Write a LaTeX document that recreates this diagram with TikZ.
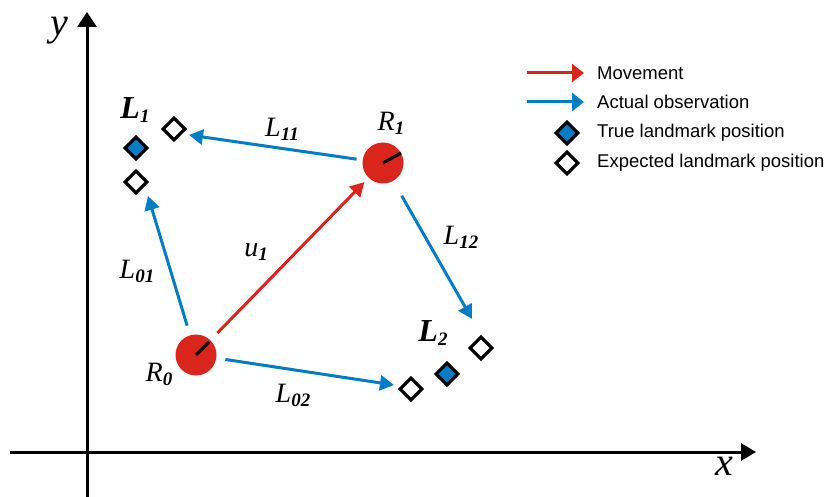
\documentclass[tikz,border=0pt]{standalone}
\usepackage{fontspec}
\setmainfont{Liberation Serif}
\newfontfamily\legendfont{Liberation Sans}
\usetikzlibrary{arrows.meta,shapes.geometric}

% italic subscript, set a little lower than the base line
\newcommand{\sbs}[1]{\raisebox{-4pt}{\fontsize{19}{19}\selectfont\bfseries #1}}

\begin{document}
\begin{tikzpicture}[x=1pt,y=-1pt,
  >={Triangle[length=14pt,width=15pt]},
  robot/.style={circle,fill=cred,minimum size=41pt,inner sep=0pt},
  tick/.style={line width=3pt,black},
  lmtrue/.style={diamond,draw=black,fill=cblue,line width=3.2pt,minimum width=23pt,minimum height=23pt,inner sep=0pt},
  lmexp/.style={diamond,draw=black,fill=white,line width=3.2pt,minimum width=23pt,minimum height=23pt,inner sep=0pt},
  move/.style={->,line width=3pt,draw=cred},
  obs/.style={->,line width=3pt,draw=cblue},
  lbl/.style={font=\fontsize{28}{32}\selectfont\itshape,inner sep=0pt},
  lmlbl/.style={font=\fontsize{32}{36}\selectfont\itshape,inner sep=0pt},
  axlbl/.style={font=\fontsize{40}{44}\selectfont\itshape,inner sep=0pt},
  leg/.style={font=\fontsize{18.5}{22}\selectfont\legendfont,anchor=west,inner sep=0pt},
]
  \definecolor{cred}{RGB}{218,37,29}
  \definecolor{cblue}{RGB}{0,125,198}
  \useasboundingbox (0,0) rectangle (830,497);

  % axes
  \coordinate (ybot) at (87,497);
  \coordinate (ytop) at (87,12);
  \coordinate (xleft) at (10,452);
  \coordinate (xright) at (756,452);
  \draw[line width=3pt,-{Triangle[length=15pt,width=19pt]}] (ybot) -- (ytop);
  \draw[line width=3pt,-{Triangle[length=15pt,width=17pt]}] (xleft) -- (xright);
  \node[axlbl] (ylab) at (59,31) {y};
  \node[axlbl] (xlab) at (724,466) {x};

  % robot poses
  \node[robot] (r0) at (196,355) {};
  \node[robot] (r1) at (383,163) {};
  \draw[tick] (r0.center) -- ++(13,-13);
  \draw[tick] (r1.center) -- ++(18,-10);
  \node[lbl] (r0lab) at (159,374) {R\sbs{0}};
  \node[lbl] (r1lab) at (391,123) {R\sbs{1}};

  % landmarks
  \node[lmtrue] (l1) at (136,148) {};
  \node[lmexp] (e1a) at (174,129) {};
  \node[lmexp] (e1b) at (136,182) {};
  \node[lmtrue] (l2) at (447,374) {};
  \node[lmexp] (e2a) at (411,389) {};
  \node[lmexp] (e2b) at (481,348) {};
  \node[lmlbl] (l1lab) at (135,110) {\textbf{L}\sbs{1}};
  \node[lmlbl] (l2lab) at (433,333) {\textbf{L}\sbs{2}};

  % observation tips
  \coordinate (t01) at (148,196);
  \coordinate (t11) at (189,135);
  \coordinate (t12) at (472,319);
  \coordinate (t02) at (394,385);

  % movement and observations
  \draw[move,shorten <=10pt,shorten >=6pt] (r0) -- (r1);
  \draw[obs,shorten <=10pt] (r0) -- (t01);
  \draw[obs,shorten <=6pt] (r1) -- (t11);
  \draw[obs,shorten <=17pt] (r1) -- (t12);
  \draw[obs,shorten <=9pt] (r0) -- (t02);
  \node[lbl] (u1) at (256,252) {u\sbs{1}};
  \node[lbl] (o01) at (137,271) {L\sbs{01}};
  \node[lbl] (o11) at (282,129) {L\sbs{11}};
  \node[lbl] (o12) at (461,237) {L\sbs{12}};
  \node[lbl] (o02) at (293,395) {L\sbs{02}};

  % legend
  \coordinate (m1) at (527,73);
  \coordinate (m2) at (584,73);
  \coordinate (a1) at (527,102);
  \coordinate (a2) at (584,102);
  \draw[move,-{Triangle[length=12pt,width=18pt]}] (m1) -- (m2);
  \draw[obs,-{Triangle[length=12pt,width=18pt]}] (a1) -- (a2);
  \node[lmtrue] (kt) at (567,133) {};
  \node[lmexp] (ke) at (567,163) {};
  \node[leg] (lm) at (597,73) {Movement};
  \node[leg] (la) at (597,102) {Actual observation};
  \node[leg] (lt) at (597,133) {True landmark position};
  \node[leg] (le) at (597,163) {Expected landmark position};
\end{tikzpicture}
\end{document}
